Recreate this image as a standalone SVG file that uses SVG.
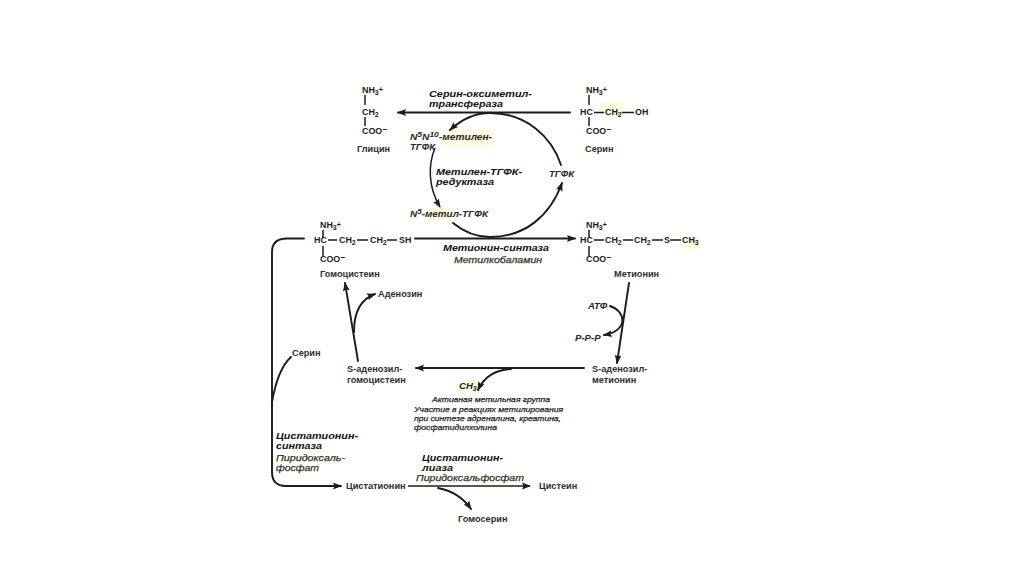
<svg xmlns="http://www.w3.org/2000/svg" width="1024" height="574" viewBox="0 0 1024 574">
<style>
text{font-family:"Liberation Sans",Arial,sans-serif;fill:#1c1c1c}
.f{font-size:8.9px;font-weight:700}
.n{font-size:9.2px;font-weight:700;fill:#2e2e2e}
.e{font-size:9.4px;font-weight:700;font-style:italic;fill:#141010}
.c{font-size:9.2px;font-weight:400;font-style:italic;stroke:#3a3020;stroke-width:.25px;fill:#3a3020}
.m{font-size:9.6px;font-weight:700;font-style:italic;fill:#2a2a24}
.s{font-size:8px;font-weight:400;font-style:italic;stroke:#1c1c1c;stroke-width:.25px}
.h{fill:#fefbe2}
.b{stroke:#1c1c1c;stroke-width:1.5;fill:none}
.l{stroke:#1c1c1c;stroke-width:1.9;fill:none;stroke-linecap:round}
.a{marker-end:url(#ah)}
</style>
<defs>
<marker id="ah" markerUnits="userSpaceOnUse" markerWidth="10" markerHeight="8" refX="8" refY="4" orient="auto"><path d="M0 0.6 L9 4 L0 7.4 L1.5 4Z" fill="#1c1c1c"/></marker>
</defs>
<rect width="1024" height="574" fill="#fff"/>
<g id="highlights">
<rect class="h" x="443" y="130" width="50" height="17" rx="3"/>
<rect class="h" x="425" y="208" width="30" height="12" rx="3"/>
<rect class="h" x="600" y="102" width="25" height="13" rx="3"/>
<rect class="h" x="681" y="237" width="20" height="13" rx="3"/>
<rect class="h" x="458" y="380" width="24" height="12" rx="3"/>
</g>
<g id="connectors">
<path class="l a" d="M570 112.500H398"/>
<path class="l a" d="M561 165C552 137 526 113 490 113C475 113 462 119 450 130"/>
<path class="l a" d="M453 223C464 232 477 237 490 237C525 237 550 216 562 183"/>
<path class="b a" d="M435 148C428 165 428 187 440 207"/>
<path class="l a" d="M415 238.500H575"/>
<path class="l" d="M304 238.500H287Q272 238.500 272 252V472Q272 486 286 486H300"/>
<path class="l a" d="M286 486H341"/>
<path class="b a" d="M408 486H530"/>
<path class="l a" d="M438 488C454 491 464 499 471 509"/>
<path class="l a" d="M358 361L345 283"/>
<path class="l a" d="M354 332C354 312 361 299 375 294"/>
<path class="l" d="M291 357C281 366 275 385 272 402"/>
<path class="l a" d="M629 283L617 363"/>
<path class="l a" d="M610 306C627 312 628 331 604 335"/>
<path class="l a" d="M584 368H416"/>
<path class="l a" d="M511 369C494 370 484 377 478 390"/>
</g>
<g id="glycine">
<text class="f" x="362" y="93">NH<tspan font-size="7" dy="1.500">3</tspan><tspan font-size="7" dy="-3">+</tspan></text>
<path class="b" d="M365 95V105M365 117V126"/>
<text class="f" x="362" y="115">CH<tspan font-size="7" dy="1.500">2</tspan></text>
<text class="f" x="362" y="134">COO<tspan dy="-2">–</tspan></text>
<text class="n" x="357" y="152">Глицин</text>
</g>
<g id="serine">
<text class="f" x="586" y="93">NH<tspan font-size="7" dy="1.500">3</tspan><tspan font-size="7" dy="-3">+</tspan></text>
<path class="b" d="M589 95V105M589 117V126M594 112.500H604M622 112.500H634"/>
<text class="f" x="580" y="115">HC</text>
<text class="f" x="605" y="115">CH<tspan font-size="7" dy="1.500">2</tspan></text>
<text class="f" x="635" y="115">OH</text>
<text class="f" x="586" y="134">COO<tspan dy="-2">–</tspan></text>
<text class="n" x="585" y="152">Серин</text>
</g>
<g id="enzyme-shmt">
<text class="e" x="429" y="97" textLength="103" lengthAdjust="spacingAndGlyphs">Серин-оксиметил-</text>
<text class="e" x="429" y="107" textLength="74" lengthAdjust="spacingAndGlyphs">трансфераза</text>
</g>
<g id="methylene-thf">
<text class="m" x="410" y="140" textLength="82" lengthAdjust="spacingAndGlyphs">N<tspan font-size="8" dy="-3">5</tspan><tspan dy="3">N</tspan><tspan font-size="8" dy="-3">10</tspan><tspan dy="3">-метилен-</tspan></text>
<text class="m" x="410" y="150">ТГФК</text>
</g>
<g id="enzyme-mthfr">
<text class="e" x="436" y="175" textLength="86" lengthAdjust="spacingAndGlyphs">Метилен-ТГФК-</text>
<text class="e" x="436" y="185" textLength="58" lengthAdjust="spacingAndGlyphs">редуктаза</text>
</g>
<g id="thf"><text class="m" x="549" y="177">ТГФК</text></g>
<g id="methyl-thf">
<text class="m" x="410" y="217" textLength="78" lengthAdjust="spacingAndGlyphs">N<tspan font-size="8" dy="-3">5</tspan><tspan dy="3">-метил-ТГФК</tspan></text>
</g>
<g id="homocysteine">
<text class="f" x="320" y="228">NH<tspan font-size="7" dy="1.500">3</tspan><tspan font-size="7" dy="-3">+</tspan></text>
<path class="b" d="M323 230V238M323 246V256M328 240H337M357 240H368M387 240H397"/>
<text class="f" x="314" y="243">HC</text>
<text class="f" x="339" y="243">CH<tspan font-size="7" dy="1.500">2</tspan></text>
<text class="f" x="370" y="243">CH<tspan font-size="7" dy="1.500">2</tspan></text>
<text class="f" x="399" y="243">SH</text>
<text class="f" x="320" y="262">COO<tspan dy="-2">–</tspan></text>
<text class="n" x="320" y="277">Гомоцистеин</text>
</g>
<g id="enzyme-ms">
<text class="e" x="443" y="251" textLength="106" lengthAdjust="spacingAndGlyphs">Метионин-синтаза</text>
<text class="c" x="454" y="263" textLength="88" lengthAdjust="spacingAndGlyphs">Метилкобаламин</text>
</g>
<g id="methionine">
<text class="f" x="586" y="228">NH<tspan font-size="7" dy="1.500">3</tspan><tspan font-size="7" dy="-3">+</tspan></text>
<path class="b" d="M589 230V238M589 246V256M594 240H604M623 240H633M652 240H663M670 240H681"/>
<text class="f" x="580" y="243">HC</text>
<text class="f" x="605" y="243">CH<tspan font-size="7" dy="1.500">2</tspan></text>
<text class="f" x="634" y="243">CH<tspan font-size="7" dy="1.500">2</tspan></text>
<text class="f" x="664" y="243">S</text>
<text class="f" x="682" y="243">CH<tspan font-size="7" dy="1.500">3</tspan></text>
<text class="f" x="586" y="262">COO<tspan dy="-2">–</tspan></text>
<text class="n" x="614" y="277">Метионин</text>
</g>
<g id="adenosine"><text class="n" x="378" y="297">Аденозин</text></g>
<g id="atp"><text class="m" x="588" y="309">АТФ</text></g>
<g id="ppp"><text class="m" x="575" y="341">P-P-P</text></g>
<g id="serine-2"><text class="n" x="292" y="356">Серин</text></g>
<g id="sah">
<text class="n" x="347" y="372">S-аденозил-</text>
<text class="n" x="347" y="383">гомоцистеин</text>
</g>
<g id="sam">
<text class="n" x="592" y="372">S-аденозил-</text>
<text class="n" x="592" y="383">метионин</text>
</g>
<g id="ch3"><text class="m" x="459" y="389">CH<tspan font-size="7" dy="1.500">3</tspan></text></g>
<g id="methyl-note">
<text class="s" x="432" y="402" textLength="118" lengthAdjust="spacingAndGlyphs">Активная метильная группа</text>
<text class="s" x="414" y="411.500" textLength="149" lengthAdjust="spacingAndGlyphs">Участие в реакциях метилирования</text>
<text class="s" x="414" y="420.500" textLength="147" lengthAdjust="spacingAndGlyphs">при синтезе адреналина, креатина,</text>
<text class="s" x="414" y="429.500" textLength="83" lengthAdjust="spacingAndGlyphs">фосфатидилхолина</text>
</g>
<g id="enzyme-cbs">
<text class="e" x="276" y="439" textLength="82" lengthAdjust="spacingAndGlyphs">Цистатионин-</text>
<text class="e" x="276" y="449" textLength="46" lengthAdjust="spacingAndGlyphs">синтаза</text>
<text class="c" x="276" y="460.500" textLength="69" lengthAdjust="spacingAndGlyphs">Пиридоксаль-</text>
<text class="c" x="276" y="470.500" textLength="43" lengthAdjust="spacingAndGlyphs">фосфат</text>
</g>
<g id="enzyme-cgl">
<text class="e" x="422" y="461" textLength="81" lengthAdjust="spacingAndGlyphs">Цистатионин-</text>
<text class="e" x="422" y="471" textLength="31" lengthAdjust="spacingAndGlyphs">лиаза</text>
<text class="c" x="416" y="481" textLength="108" lengthAdjust="spacingAndGlyphs">Пиридоксальфосфат</text>
</g>
<g id="cystathionine"><text class="n" x="346" y="489">Цистатионин</text></g>
<g id="cysteine"><text class="n" x="539" y="489">Цистеин</text></g>
<g id="homoserine"><text class="n" x="458" y="522">Гомосерин</text></g>
</svg>
